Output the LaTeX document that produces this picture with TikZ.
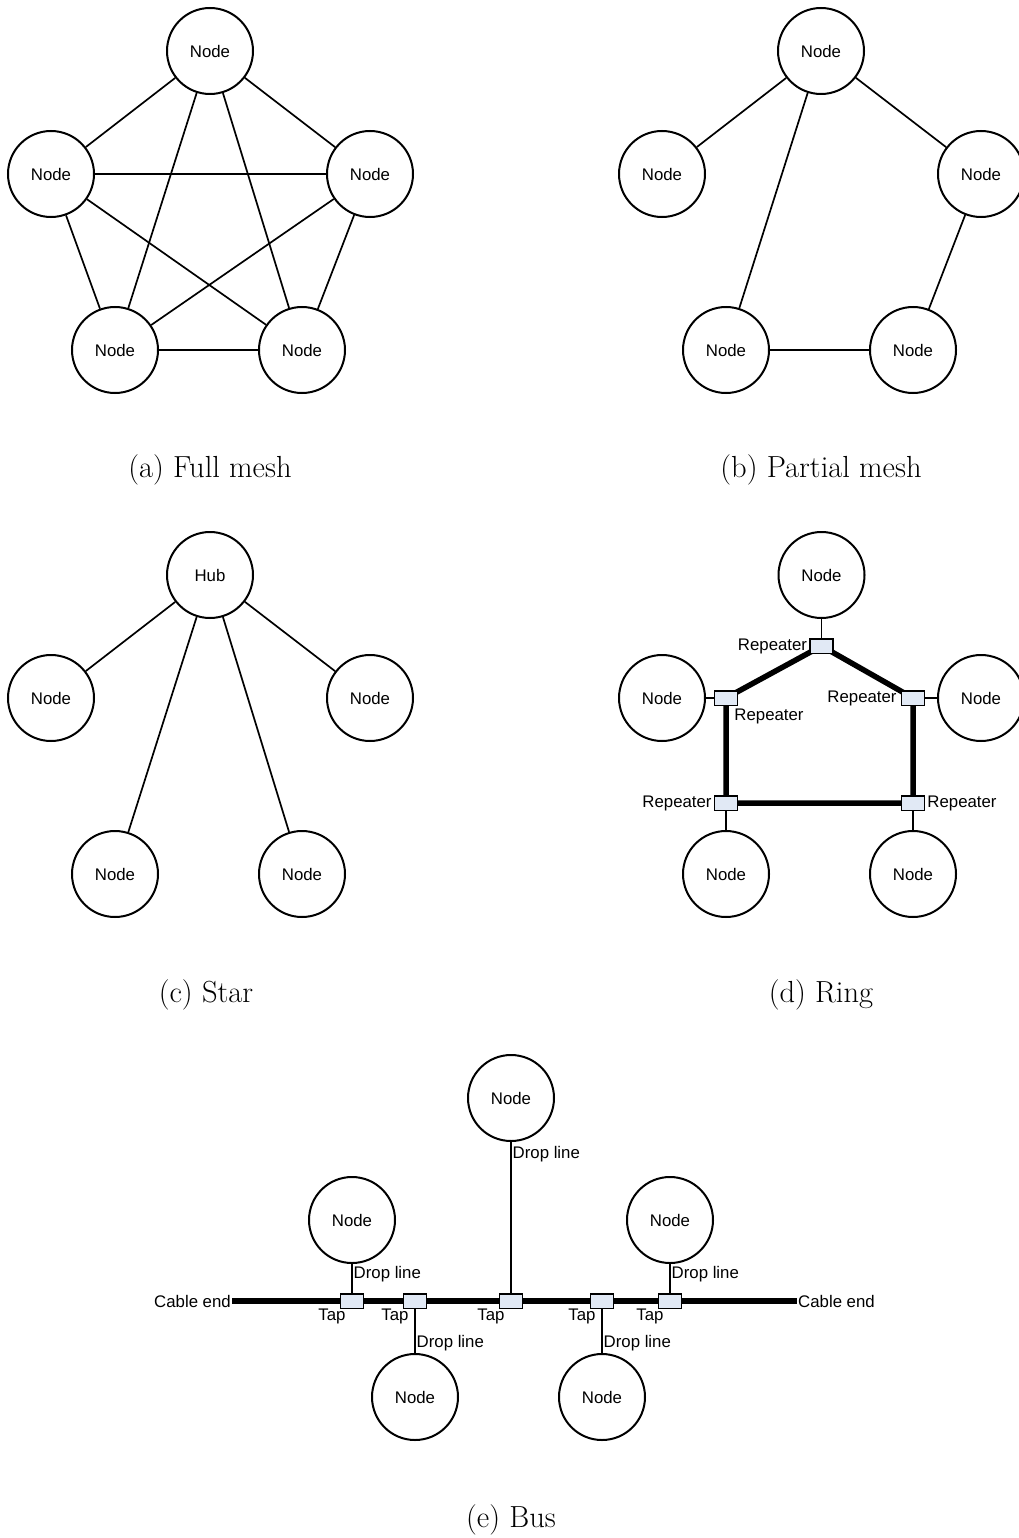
\documentclass[tikz,border=0pt]{standalone}
\usepackage{fontspec}
\usetikzlibrary{calc,backgrounds}
\newfontfamily\arialfont{Liberation Sans}
\newcommand\nodefnt{\arialfont\fontsize{16.8}{20}\selectfont}
\newcommand\capfnt{\fontsize{30.5}{36}\selectfont}
\definecolor{boxfill}{HTML}{E1E9F5}

\tikzset{
  host/.style={circle, draw, line width=2pt, minimum size=86pt, inner sep=0pt, font=\nodefnt},
  link/.style={line width=1.7pt},
  trunk/.style={line width=5.5pt},
  device/.style={draw, line width=1.5pt, fill=boxfill, minimum width=23pt, minimum height=14.5pt, inner sep=0pt},
  tag/.style={font=\nodefnt, inner sep=2pt},
  subcap/.style={font=\capfnt, inner sep=0pt}
}

\begin{document}
\begin{tikzpicture}[x=1pt,y=-1pt]
\useasboundingbox (0,0) rectangle (1019,1538);

% ---------- (a) full mesh ----------
\node[host] (a1) at (210,51)  {Node};
\node[host] (a2) at (51,174)  {Node};
\node[host] (a3) at (370,174) {Node};
\node[host] (a4) at (115,350) {Node};
\node[host] (a5) at (302,350) {Node};
\foreach \u/\v in {a1/a2,a1/a3,a1/a4,a1/a5,a2/a3,a2/a4,a2/a5,a3/a4,a3/a5,a4/a5}
  \draw[link] (\u) -- (\v);
\node[subcap] (capa) at (210,470) {(a) Full mesh};

% ---------- (b) partial mesh ----------
\node[host] (b1) at (821,51)  {Node};
\node[host] (b2) at (662,174) {Node};
\node[host] (b3) at (981,174) {Node};
\node[host] (b4) at (726,350) {Node};
\node[host] (b5) at (913,350) {Node};
\foreach \u/\v in {b1/b2,b1/b3,b1/b4,b3/b5,b4/b5}
  \draw[link] (\u) -- (\v);
\node[subcap] (capb) at (821,470) {(b) Partial mesh};

% ---------- (c) star ----------
\node[host] (c0) at (210,575) {Hub};
\node[host] (c1) at (51,698)  {Node};
\node[host] (c2) at (370,698) {Node};
\node[host] (c3) at (115,874) {Node};
\node[host] (c4) at (302,874) {Node};
\foreach \v in {c1,c2,c3,c4}
  \draw[link] (c0) -- (\v);
\node[subcap] (capc) at (206,995) {(c) Star};

% ---------- (d) ring ----------
\node[host] (d0) at (821.5,575) {Node};
\node[host] (d1) at (662,698) {Node};
\node[host] (d2) at (981,698) {Node};
\node[host] (d3) at (726,874) {Node};
\node[host] (d4) at (913,874) {Node};
\node[device] (r0) at (821.5,646) {};
\node[device] (r1) at (726,698) {};
\node[device] (r2) at (913,698) {};
\node[device] (r3) at (726,803) {};
\node[device] (r4) at (913,803) {};
\begin{scope}[on background layer]
  \draw[trunk, line join=miter] (r0.center) -- (r1.center) -- (r3.center) -- (r4.center) -- (r2.center) -- cycle;
\end{scope}
\draw[link] (d0) -- (r0);
\draw[link] (d1) -- (r1);
\draw[link] (r2) -- (d2);
\draw[link] (r3) -- (d3);
\draw[link] (r4) -- (d4);
\node[tag, anchor=east] (l0) at (r0.west) {Repeater};
\node[tag, anchor=north west, inner sep=0pt] (l1) at ($(r1.south east)+(-4,3)$) {Repeater};
\node[tag, anchor=east] (l2) at ($(r2.west)+(-2,0)$) {Repeater};
\node[tag, anchor=east] (l3) at (r3.west) {Repeater};
\node[tag, anchor=west] (l4) at (r4.east) {Repeater};
\node[subcap] (capd) at (821,995) {(d) Ring};

% ---------- (e) bus ----------
\node[host] (e0) at (511,1098) {Node};
\node[host] (e1) at (352,1220) {Node};
\node[host] (e2) at (670,1220) {Node};
\node[host] (e3) at (415,1397) {Node};
\node[host] (e4) at (602,1397) {Node};
\node[device] (t1) at (352,1301) {};
\node[device] (t2) at (415,1301) {};
\node[device] (t3) at (511,1301) {};
\node[device] (t4) at (602,1301) {};
\node[device] (t5) at (670,1301) {};
\node[tag, anchor=east, inner sep=1pt] (endl) at (232,1301) {Cable end};
\node[tag, anchor=west, inner sep=1pt] (endr) at (797,1301) {Cable end};
\begin{scope}[on background layer]
  \draw[trunk] (endl.east) -- (t1.center) -- (t2.center) -- (t3.center) -- (t4.center) -- (t5.center) -- (endr.west);
\end{scope}
\draw[link] (e0) -- (t3);
\draw[link] (e1) -- (t1);
\draw[link] (e2) -- (t5);
\draw[link] (t2) -- (e3);
\draw[link] (t4) -- (e4);
\node[tag, anchor=west, inner sep=1.5pt] (p0) at ($(e0.south)+(0,12)$) {Drop line};
\node[tag, anchor=west, inner sep=1.5pt] (p1) at ($(e1.south)+(0,10)$) {Drop line};
\node[tag, anchor=west, inner sep=1.5pt] (p2) at ($(e2.south)+(0,10)$) {Drop line};
\node[tag, anchor=west, inner sep=1.5pt] (p3) at ($(e3.north)+(0,-10)$) {Drop line};
\node[tag, anchor=west, inner sep=1.5pt] (p4) at ($(e4.north)+(0,-10)$) {Drop line};
\foreach \t in {t1,t2,t3,t4,t5}
  \node[tag, anchor=north east, inner sep=0pt] (\t l) at ($(\t.south west)+(6,0)$) {Tap};
\node[subcap] (cape) at (511,1520) {(e) Bus};
\end{tikzpicture}
\end{document}
